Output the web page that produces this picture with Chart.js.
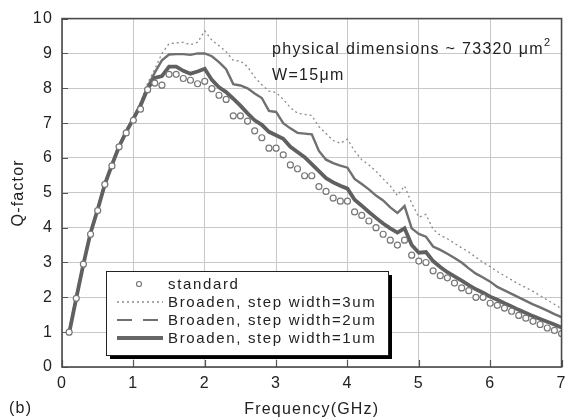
<!DOCTYPE html>
<html>
<head>
<meta charset="utf-8">
<script src="https://cdn.jsdelivr.net/npm/chart.js@4"></script>
<style>
  html, body { margin: 0; padding: 0; background: #fff; }
  canvas { display: block; }
</style>
</head>
<body>
<canvas id="qchart" width="573" height="420"></canvas>
<script>
// frequency samples (GHz)
const freq = [0.1,0.2,0.3,0.4,0.5,0.6,0.7,0.8,0.9,1.0,
              1.1,1.2,1.3,1.4,1.5,1.6,1.7,1.8,1.9,2.0,
              2.1,2.2,2.3,2.4,2.5,2.6,2.7,2.8,2.9,3.0,
              3.1,3.2,3.3,3.4,3.5,3.6,3.7,3.8,3.9,4.0,
              4.1,4.2,4.3,4.4,4.5,4.6,4.7,4.8,4.9,5.0,
              5.1,5.2,5.3,5.4,5.5,5.6,5.7,5.8,5.9,6.0,
              6.1,6.2,6.3,6.4,6.5,6.6,6.7,6.8,6.9,7.0];

// Q-factor, standard inductor (circles)
const qStandard = [1.0,1.97,2.95,3.81,4.49,5.24,5.77,6.32,6.72,7.08,
                   7.40,7.96,8.15,8.09,8.40,8.40,8.28,8.23,8.13,8.20,
                   7.99,7.80,7.68,7.21,7.21,7.06,6.78,6.58,6.28,6.28,
                   6.09,5.80,5.69,5.49,5.49,5.18,5.04,4.85,4.76,4.76,
                   4.45,4.35,4.19,4.00,3.81,3.64,3.50,3.64,3.21,3.04,
                   3.00,2.76,2.62,2.56,2.41,2.27,2.19,2.00,2.00,1.83,
                   1.77,1.69,1.60,1.48,1.40,1.31,1.22,1.12,1.05,0.96];

// Broaden, step width=3um (dotted)
const qStep3 = [1.0,2.0,2.97,3.87,4.57,5.28,5.85,6.38,6.80,7.18,
                7.60,8.15,8.55,9.00,9.28,9.30,9.32,9.25,9.32,9.65,
                9.38,9.22,9.05,8.80,8.78,8.62,8.32,8.10,7.92,7.88,
                7.68,7.45,7.28,7.25,7.22,6.90,6.70,6.50,6.42,6.54,
                6.20,5.95,5.80,5.62,5.40,5.20,4.92,5.20,4.70,4.30,
                4.38,3.95,3.78,3.68,3.55,3.42,3.30,3.15,3.00,2.88,
                2.74,2.62,2.50,2.38,2.28,2.17,2.05,1.92,1.80,1.67];

// Broaden, step width=2um (long dash)
const qStep2 = [1.0,2.0,2.95,3.85,4.55,5.25,5.82,6.35,6.78,7.15,
                7.55,8.05,8.45,8.80,8.97,8.98,8.98,8.96,9.00,9.00,
                8.92,8.75,8.55,8.12,8.08,8.00,7.85,7.72,7.35,7.32,
                7.00,6.85,6.72,6.70,6.68,6.20,5.95,5.85,5.78,5.72,
                5.40,5.25,5.10,4.92,4.78,4.58,4.42,4.62,3.98,3.82,
                3.74,3.46,3.36,3.25,3.13,3.00,2.83,2.68,2.57,2.45,
                2.30,2.20,2.10,2.00,1.90,1.80,1.71,1.62,1.52,1.43];

// Broaden, step width=1um (thick solid)
const qStep1 = [0.97,1.98,2.95,3.85,4.52,5.24,5.80,6.33,6.75,7.12,
                7.50,7.98,8.30,8.35,8.62,8.62,8.50,8.42,8.48,8.56,
                8.24,8.03,7.89,7.70,7.50,7.28,7.08,6.95,6.75,6.65,
                6.55,6.32,6.17,6.02,5.82,5.62,5.42,5.30,5.20,5.12,
                4.80,4.63,4.45,4.28,4.12,3.98,3.86,3.98,3.50,3.28,
                3.30,3.04,2.87,2.72,2.60,2.48,2.35,2.23,2.13,2.02,
                1.93,1.83,1.74,1.64,1.55,1.46,1.38,1.30,1.22,1.13];

const seriesNames = ["standard", "Broaden, step width=3um", "Broaden, step width=2um", "Broaden, step width=1um"];
const xTicks = [0, 1, 2, 3, 4, 5, 6, 7];
const yTicks = [0, 1, 2, 3, 4, 5, 6, 7, 8, 9, 10];

const FONT = '"Liberation Sans", Arial, Helvetica, sans-serif';
const pts = arr => freq.map((f, i) => ({x: f, y: arr[i]}));

// frame, inner ticks, legend box and note
const decor = {
  id: 'decor',
  beforeDraw(chart) {
    chart.ctx.letterSpacing = '1.2px';
  },
  beforeDatasetsDraw(chart) {
    const {ctx, chartArea: a, scales: {x, y}} = chart;
    ctx.save();
    ctx.strokeStyle = '#555';
    ctx.lineWidth = 1.2;
    ctx.beginPath();
    xTicks.forEach(v => { const px = Math.round(x.getPixelForValue(v)) + 0.5; ctx.moveTo(px, a.bottom); ctx.lineTo(px, a.bottom - 7); });
    yTicks.forEach(v => { const py = Math.round(y.getPixelForValue(v)) + 0.5; ctx.moveTo(a.left, py); ctx.lineTo(a.left + 6, py); });
    ctx.stroke();
    ctx.restore();
  },
  afterDraw(chart) {
    const {ctx, chartArea: a} = chart;
    ctx.save();
    ctx.letterSpacing = '1.2px';
    // plot frame
    ctx.strokeStyle = '#4a4a4a';
    ctx.lineWidth = 1.6;
    ctx.strokeRect(a.left, a.top, a.right - a.left, a.bottom - a.top);

    // legend
    const lx = 106, ly = 271, lw = 282, lh = 84;
    ctx.fillStyle = '#000';
    ctx.fillRect(lx + 4, ly + 4, lw, lh);
    ctx.fillStyle = '#fff';
    ctx.fillRect(lx, ly, lw, lh);
    ctx.strokeStyle = '#222';
    ctx.lineWidth = 1;
    ctx.strokeRect(lx + 0.5, ly + 0.5, lw, lh);

    const rows = [284, 302, 320, 338];
    const s0 = 117, s1 = 163;
    // standard: circle
    ctx.beginPath();
    ctx.arc(139, rows[0], 2.5, 0, Math.PI * 2);
    ctx.fillStyle = '#fff'; ctx.fill();
    ctx.strokeStyle = '#777'; ctx.lineWidth = 1.2; ctx.stroke();
    // 3um: dotted
    ctx.beginPath(); ctx.setLineDash([2, 3]);
    ctx.strokeStyle = '#8a8a8a'; ctx.lineWidth = 1.3;
    ctx.moveTo(s0, rows[1]); ctx.lineTo(s1, rows[1]); ctx.stroke();
    // 2um: long dash
    ctx.beginPath(); ctx.setLineDash([15, 11]);
    ctx.strokeStyle = '#707070'; ctx.lineWidth = 2.2;
    ctx.moveTo(s0, rows[2]); ctx.lineTo(s1, rows[2]); ctx.stroke();
    // 1um: thick
    ctx.beginPath(); ctx.setLineDash([]);
    ctx.strokeStyle = '#666'; ctx.lineWidth = 4;
    ctx.moveTo(s0, rows[3]); ctx.lineTo(s1, rows[3]); ctx.stroke();

    ctx.fillStyle = '#222';
    ctx.letterSpacing = '1.65px';
    ctx.font = '15px ' + FONT;
    ctx.textBaseline = 'middle';
    ctx.textAlign = 'left';
    seriesNames.forEach((n, i) => ctx.fillText(n, 168, rows[i] + 1));

    // annotation
    ctx.letterSpacing = '1.3px';
    ctx.font = '16px ' + FONT;
    ctx.textBaseline = 'alphabetic';
    const note = 'physical dimensions ~ 73320 \u03bcm';
    ctx.fillText(note, 272, 54);
    const w = ctx.measureText(note).width;
    ctx.font = '11px ' + FONT;
    ctx.fillText('2', 272 + w, 46);
    ctx.font = '16px ' + FONT;
    ctx.fillText('W=15\u03bcm', 272, 80);

    // panel label
    ctx.letterSpacing = '1.2px';
    ctx.fillText('(b)', 9, 413);
    ctx.restore();
  }
};

const config = {
  type: 'line',
  data: {
    datasets: [
      {label: seriesNames[0], data: pts(qStandard), showLine: false, pointRadius: 3,
       pointBorderColor: '#777', pointBackgroundColor: '#fff', pointBorderWidth: 1.2, order: 0},
      {label: seriesNames[3], data: pts(qStep1), borderColor: '#606060', borderWidth: 3.8,
       pointRadius: 0, order: 1},
      {label: seriesNames[2], data: pts(qStep2), borderColor: '#707070', borderWidth: 2.4,
       pointRadius: 0, order: 2},
      {label: seriesNames[1], data: pts(qStep3), borderColor: '#8a8a8a', borderWidth: 1.3,
       borderDash: [2, 3], pointRadius: 0, order: 3}
    ]
  },
  options: {
    responsive: false,
    animation: false,
    layout: {padding: {top: 16, right: 10, left: 0, bottom: 0}},
    plugins: {legend: {display: false}, tooltip: {enabled: false}},
    scales: {
      x: {
        type: 'linear', min: 0, max: 7,
        afterFit: s => { s.height = 53; },
        afterBuildTicks: s => { s.ticks = xTicks.map(v => ({value: v})); },
        ticks: {color: '#222', padding: 7, font: {family: FONT, size: 16}},
        grid: {color: '#c8c8c8', lineWidth: 1, drawTicks: false},
        border: {display: false},
        title: {display: true, text: 'Frequency(GHz)', color: '#222',
                font: {family: FONT, size: 16}, padding: {top: 0, bottom: 1}}
      },
      y: {
        min: 0, max: 10,
        afterFit: s => { s.width = 62; },
        afterBuildTicks: s => { s.ticks = yTicks.map(v => ({value: v})); },
        ticks: {color: '#222', padding: 9, font: {family: FONT, size: 16}},
        grid: {color: '#c8c8c8', lineWidth: 1, drawTicks: false},
        border: {display: false},
        title: {display: true, text: 'Q-factor', color: '#222',
                font: {family: FONT, size: 16}, padding: {top: 9, bottom: 0}}
      }
    }
  },
  plugins: [decor]
};

const qChart = new Chart(document.getElementById('qchart'), config);
</script>
</body>
</html>
